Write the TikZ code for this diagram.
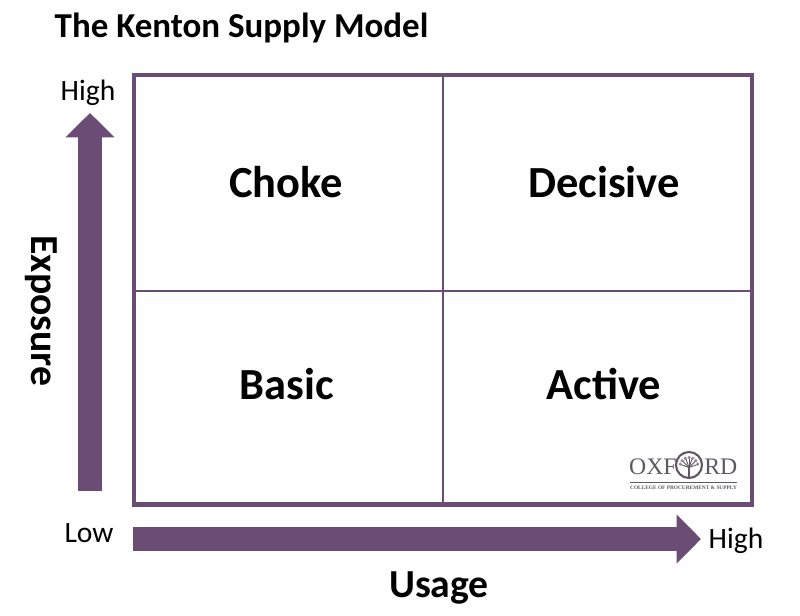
\documentclass[tikz,border=0pt]{standalone}
\usepackage{fontspec}
\setmainfont{Carlito}
\newfontfamily\logofont{Liberation Serif}
\usetikzlibrary{arrows.meta}
\definecolor{plum}{HTML}{6B4C74}
\definecolor{logogrey}{HTML}{5F5A62}
\tikzset{
  bigarrow/.style={line width=0.48cm,plum,-{Triangle[length=0.49cm,width=0.96cm]}},
  cell/.style={font=\fontsize{25.3}{30}\selectfont\bfseries,inner sep=0pt},
  axisname/.style={font=\fontsize{22.6}{27}\selectfont\bfseries,inner sep=0pt},
  endname/.style={font=\fontsize{16.8}{20}\selectfont,inner sep=0pt},
  logoletters/.style={font=\logofont\fontsize{13.5}{16}\selectfont,text=logogrey,inner sep=0pt},
}
\begin{document}
\begin{tikzpicture}
    \useasboundingbox (0,0) rectangle (16,12.3);
    % frame corners and the middle of each side
    \coordinate (sw) at (2.68,2.21);
    \coordinate (ne) at (15.04,10.8);
    \coordinate (top) at (8.86,10.8);
    \coordinate (bottom) at (8.86,2.21);
    \coordinate (left) at (2.68,6.48);
    \coordinate (right) at (15.04,6.48);
    \draw[plum,line width=1pt] (top) -- (bottom);
    \draw[plum,line width=1pt] (left) -- (right);
    \draw[plum,line width=0.09cm] (sw) rectangle (ne);
    % axes
    \coordinate (ylow) at (1.8,2.48);
    \coordinate (yhigh) at (1.8,10.04);
    \coordinate (xlow) at (2.66,1.52);
    \coordinate (xhigh) at (14.02,1.52);
    \draw[bigarrow] (ylow) -- (yhigh);
    \draw[bigarrow] (xlow) -- (xhigh);
    % labels
    \node[font=\fontsize{19.9}{24}\selectfont\bfseries,inner sep=0pt] (title) at (4.83,11.74) {The Kenton Supply Model};
    \node[cell] (choke) at (5.72,8.66) {Choke};
    \node[cell] (decisive) at (12.08,8.66) {Decisive};
    \node[cell] (basic) at (5.74,4.62) {Basic};
    \node[cell] (active) at (12.08,4.62) {Active};
    \node[axisname,rotate=-90] (exposure) at (0.82,6.08) {Exposure};
    \node[axisname] (usage) at (8.78,0.54) {Usage};
    \node[endname] (yhighlabel) at (1.76,10.44) {High};
    \node[endname] (ylowlabel) at (1.78,1.64) {Low};
    \node[endname] (xhighlabel) at (14.72,1.48) {High};
    % logo
    \node[logoletters,anchor=east] (oxf) at (13.54,2.96) {OXF};
    \node[draw=logogrey,line width=1.2pt,circle,minimum size=0.52cm,inner sep=0pt] (seal) at (13.78,3) {};
    \node[logoletters,anchor=west] (rd) at (14.08,2.96) {RD};
    \coordinate (rulel) at (12.6,2.66);
    \coordinate (ruler) at (14.74,2.66);
    \draw[logogrey,line width=0.4pt] (rulel) -- (ruler);
    \node[font=\logofont\bfseries\fontsize{3.05}{4}\selectfont,text=logogrey,inner sep=0pt] (college) at (13.67,2.55) {COLLEGE OF PROCUREMENT \& SUPPLY};
    % tree inside the seal
    \draw[logogrey,line width=1.1pt] (seal.south) ++(0,0.04) -- ++(0,0.22);
    \foreach \ang in {20,45,70,90,110,135,160}
        \draw[logogrey,line width=0.5pt] (seal.center) ++(0,-0.05) -- ++(\ang:0.2);
    \foreach \ang in {15,40,65,90,115,140,165}
        \fill[logogrey!70] (seal.center) ++(0,-0.03) ++(\ang:0.18) circle (0.035);
\end{tikzpicture}
\end{document}
